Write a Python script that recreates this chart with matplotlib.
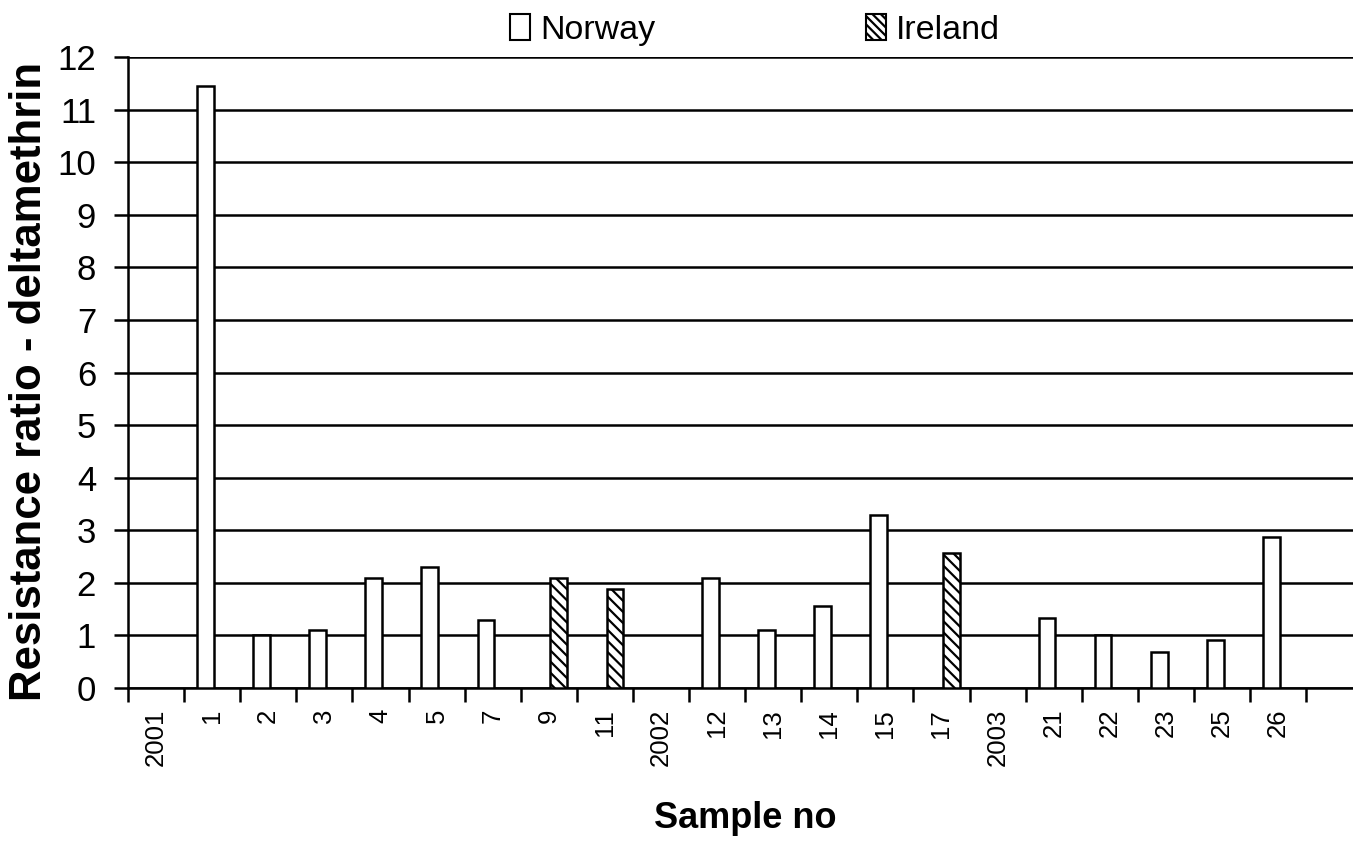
import matplotlib
matplotlib.use("Agg")
import matplotlib.pyplot as plt
from matplotlib import font_manager
from matplotlib.patches import Patch
import numpy as np

categories = ["2001", "1", "2", "3", "4", "5", "7", "9", "11", "2002", "12", "13",
              "14", "15", "17", "2003", "21", "22", "23", "25", "26"]
norway = [0, 11.45, 1.0, 1.1, 2.1, 2.3, 1.29, 0, 0, 0, 2.1, 1.1,
          1.56, 3.29, 0, 0, 1.33, 1.0, 0.68, 0.91, 2.88]
ireland = [0, 0, 0, 0, 0, 0, 0, 2.1, 1.88, 0, 0, 0,
           0, 0, 2.57, 0, 0, 0, 0, 0, 0]
yticks = list(range(0, 13))

avail = {f.name for f in font_manager.fontManager.ttflist}
narrow = "Liberation Sans Narrow" if "Liberation Sans Narrow" in avail else "Liberation Sans"
regular = "Liberation Sans" if "Liberation Sans" in avail else "DejaVu Sans"

plt.rcParams["hatch.linewidth"] = 1.6
W, H = 1353, 844
fig = plt.figure(figsize=(W / 100, H / 100), dpi=100)
left_px, right_px, top_px, bot_px = 128, 128 + 22 * 56.1, 57, 688
ax = fig.add_axes([left_px / W, (H - bot_px) / H, (right_px - left_px) / W, (bot_px - top_px) / H])

x = np.arange(len(categories))
bw = 0.30
mask_n = [v > 0 for v in norway]
mask_i = [v > 0 for v in ireland]
ax.bar(x[mask_n] - bw / 2 + 0.03, np.array(norway)[mask_n], width=bw, facecolor="white",
       edgecolor="black", linewidth=1.8, zorder=3)
ax.bar(x[mask_i] + bw / 2 + 0.03, np.array(ireland)[mask_i], width=bw, facecolor="white",
       edgecolor="black", linewidth=1.8, hatch="\\\\\\", zorder=3)

ax.set_xlim(-0.5, 21.5)
ax.set_ylim(0, 12)
ax.set_yticks(yticks)
ax.set_yticklabels([str(t) for t in yticks], fontfamily=narrow, fontsize=25)
ax.yaxis.grid(True, color="black", linewidth=1.8, zorder=0)
ax.tick_params(axis="y", length=10, width=1.8, pad=13, direction="out")

ax.set_xticks(np.arange(-0.5, 22, 1.0))
ax.set_xticklabels([])
ax.tick_params(axis="x", which="major", length=10, width=1.8, direction="out")
ax.set_xticks(x, minor=True)
ax.set_xticklabels(categories, minor=True, rotation=90, fontfamily=regular, fontsize=18.5,
                   va="top", ha="center")
ax.tick_params(axis="x", which="minor", length=0, pad=15)

for s in ["top", "right"]:
    ax.spines[s].set_visible(False)
for s in ["left", "bottom"]:
    ax.spines[s].set_linewidth(1.8)

fig.text(30 / W, 1 - 381 / H, "Resistance ratio - deltamethrin", rotation=90,
         fontfamily=regular, fontweight="bold", fontsize=31.5, ha="center", va="center")
fig.text(745 / W, 1 - 818 / H, "Sample no", fontfamily=narrow, fontweight="bold",
         fontsize=26, ha="center", va="center")

handles = [Patch(facecolor="white", edgecolor="black", linewidth=1.5),
           Patch(facecolor="white", edgecolor="black", linewidth=1.5, hatch="\\\\\\\\")]
fig.legend(handles, ["Norway", "Ireland"], loc="center", bbox_to_anchor=(755 / W, 1 - 30 / H),
           ncol=2, frameon=False, prop={"family": narrow, "size": 24.5},
           handlelength=0.58, handleheight=0.82, handletextpad=0.3, columnspacing=6.2,
           borderaxespad=0)

fig.savefig("out.png", dpi=100)
